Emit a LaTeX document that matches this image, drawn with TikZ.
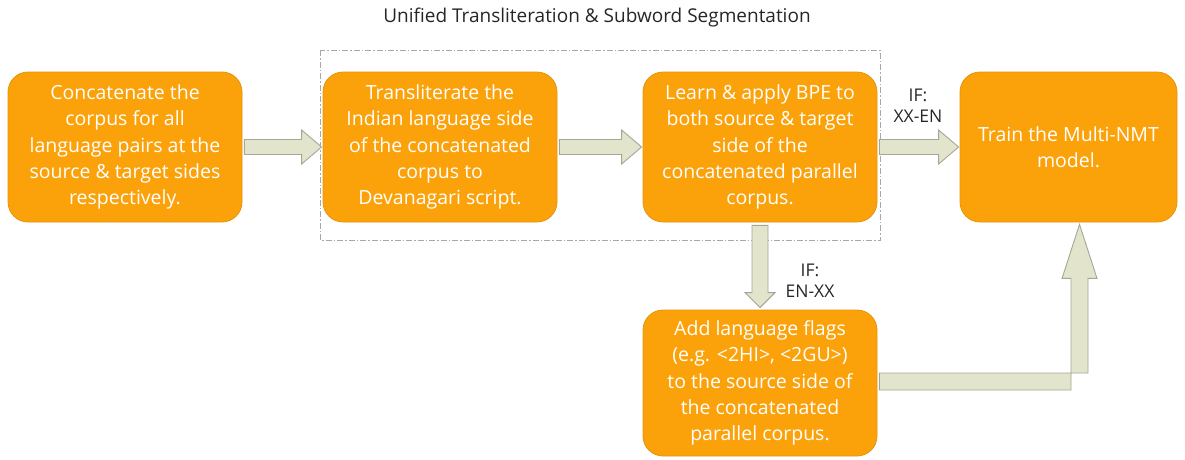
\documentclass[tikz,border=0pt]{standalone}
\usepackage{fontspec}
\setmainfont{Open Sans}
\usetikzlibrary{calc}
\definecolor{boxor}{HTML}{FBA20A}
\definecolor{boxedge}{HTML}{E5940A}
\definecolor{arrfill}{HTML}{E2E5CB}
\definecolor{arredge}{HTML}{A4A797}
\definecolor{dashc}{HTML}{A8A8A8}
\tikzset{
  stepbox/.style={draw=boxedge, line width=0.8pt, fill=boxor, rounded corners=20pt,
    minimum width=234pt, minimum height=150pt, text=white, align=center,
    inner sep=0pt, font=\fontsize{19.5}{26.3}\selectfont},
  blk/.style={draw=arredge, line width=0.9pt, fill=arrfill, line join=miter},
  lbl/.style={align=center, font=\fontsize{17.5}{21}\selectfont, text=black!85},
}
\begin{document}
\begin{tikzpicture}[x=1pt,y=-1pt]
\useasboundingbox (0,0) rectangle (1185,459);
% title
\node[font=\fontsize{19}{20}\selectfont, text=black!85] (title) at (597,18) {Unified Transliteration \& Subword Segmentation};
% dashed group
\draw[dashc, line width=0.9pt, dash pattern=on 6pt off 2pt on 1.5pt off 2pt] (320,50) rectangle (880,240);
% boxes
\node[stepbox] (b1) at (125,147) {Concatenate the\\corpus for all\\language pairs at the\\source \& target sides\\respectively.};
\node[stepbox] (b2) at (440,147) {Transliterate the\\Indian language side\\of the concatenated\\corpus to\\Devanagari script.};
\node[stepbox] (b3) at (760,147) {Learn \& apply BPE to\\both source \& target\\side of the\\concatenated parallel\\corpus.};
\node[stepbox, minimum width=217pt] (b4) at (1068.5,147) {Train the Multi-NMT\\model.};
\node[stepbox, minimum height=146pt] (b5) at (760,383) {Add language flags\\(e.g. <2HI>, <2GU>)\\to the source side of\\the concatenated\\parallel corpus.};
% horizontal block arrows
\foreach \s/\e/\nm in {b1/b2/a1, b2/b3/a2, b3/b4/a3}{
  \path ($(\s.east)+(2,0)$) coordinate (\nm s);
  \path ($(\e.west)+(-1,0)$) coordinate (\nm e);
  \draw[blk] let \p1=(\nm s), \p2=(\nm e) in
    (\x1,\y1+7.5) -- (\x2-20,\y1+7.5) -- (\x2-20,\y1+17) -- (\x2,\y1)
    -- (\x2-20,\y1-17) -- (\x2-20,\y1-7.5) -- (\x1,\y1-7.5) -- cycle;
}
% down arrow
\path ($(b3.south)+(0,3)$) coordinate (dns);
\path ($(b5.north)+(0,-2)$) coordinate (dne);
\draw[blk] let \p1=(dns), \p2=(dne) in
  (\x1-8,\y1) -- (\x1+8,\y1) -- (\x1+8,\y2+15) -- (\x1+15,\y2+15) -- (\x1,\y2)
  -- (\x1-15,\y2+15) -- (\x1-8,\y2+15) -- cycle;
% L arrow
\path ($(b5.east)+(2,-1.5)$) coordinate (ls);
\path ($(b4.south)+(11,2)$) coordinate (le);
\draw[blk] let \p1=(ls), \p2=(le) in
  (\x1,\y1+8.5) -- (\x2+8.5,\y1+8.5) -- (\x2+8.5,\y2-54) -- (\x2+17.5,\y2-54) -- (\x2,\y2)
  -- (\x2-17.5,\y2-54) -- (\x2-8.5,\y2-54) -- (\x2-8.5,\y1-8.5) -- (\x1,\y1-8.5) -- cycle;
% labels
\node[lbl] (l1) at (918,106) {IF:\\XX-EN};
\node[lbl] (l2) at (810,281) {IF:\\EN-XX};
\end{tikzpicture}
\end{document}
